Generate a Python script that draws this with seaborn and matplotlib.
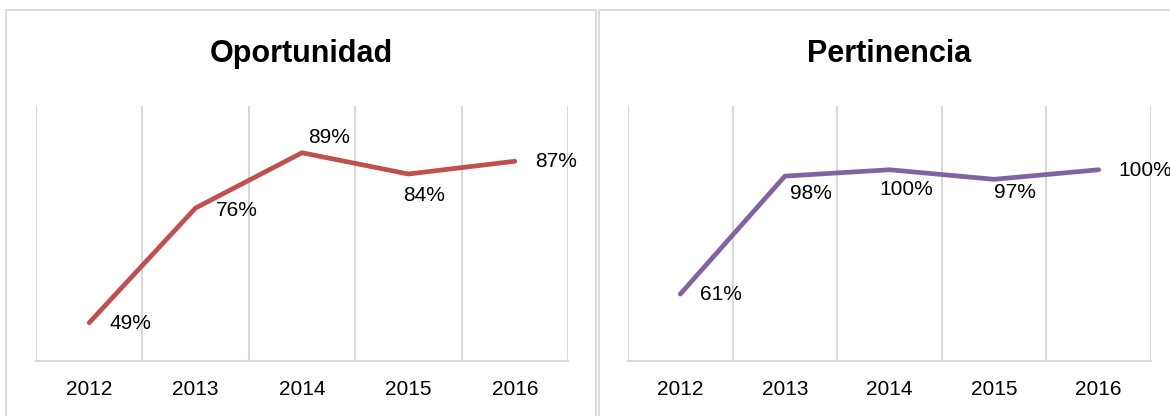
import numpy as np
import pandas as pd
import matplotlib
matplotlib.use("Agg")
import matplotlib.pyplot as plt
import matplotlib.ticker as mticker
from matplotlib.patches import Rectangle
import seaborn as sns

sns.set_theme(style="white")
plt.rcParams["font.family"] = ["Liberation Sans", "DejaVu Sans"]

# Data
years = [2012, 2013, 2014, 2015, 2016]
oportunidad = [0.49, 0.76, 0.89, 0.84, 0.87]
pertinencia = [0.61, 0.98, 1.00, 0.97, 1.00]

# label offsets (pixels, centre of text relative to the point)
off_op = [(41, -1), (41, -2), (27, 15), (16, -21), (41, 0)]
off_pe = [(41, 0), (26, -17), (17, -20), (21, -13), (47, -1)]

grid_col = "#D9D9D9"

fig = plt.figure(figsize=(11.7, 4.16), dpi=100)

# panel borders (figure pixels)
W, H = 1170, 416
for x0, x1 in [(6, 596), (599, 1200)]:
    fig.patches.append(Rectangle((x0 / W, -0.1), (x1 - x0) / W, (H - 10) / H + 0.1,
                                 transform=fig.transFigure, fill=False,
                                 edgecolor=grid_col, lw=1.3, zorder=0))


def panel(rect, vals, color, title, ylim, offsets, title_x):
    ax = fig.add_axes(rect)
    df = pd.DataFrame({"year": years, "val": vals})
    sns.lineplot(data=df, x="year", y="val", ax=ax, color=color, lw=3.4,
                 solid_capstyle="round")
    ax.set_xlim(years[0] - 0.5, years[-1] + 0.5)
    ax.set_ylim(*ylim)
    ax.set(xlabel=None, ylabel=None)
    ax.set_yticks([])
    ax.xaxis.set_major_locator(mticker.FixedLocator(years))
    ax.xaxis.set_minor_locator(mticker.FixedLocator(np.arange(years[0] - 0.5, years[-1] + 1, 1)))
    ax.tick_params(axis="x", which="major", length=0, labelsize=15, pad=14, colors="#000000")
    ax.tick_params(axis="x", which="minor", length=8, width=1.5, color=grid_col, direction="out")
    ax.grid(axis="x", which="minor", color=grid_col, lw=1.5)
    for s in ["top", "right", "left"]:
        ax.spines[s].set_visible(False)
    ax.spines["bottom"].set_color(grid_col)
    ax.spines["bottom"].set_linewidth(1.5)
    for x, v, (dx, dy) in zip(years, vals, offsets):
        ax.annotate(f"{v:.0%}", (x, v), xytext=(dx, dy), textcoords="offset pixels",
                    ha="center", va="center", fontsize=15,
                    color="#000000", annotation_clip=False)
    fig.text(title_x, 1 - 54 / H, title, ha="center", va="center",
             fontsize=22, fontweight="bold", color="#000000")
    return ax


panel([36 / W, 1 - 361 / H, 532 / W, 255 / H], oportunidad, "#C0504D",
      "Oportunidad", (0.4, 1.0), off_op, 301 / W)
panel([628 / W, 1 - 361 / H, 523 / W, 255 / H], pertinencia, "#8064A2",
      "Pertinencia", (0.4, 1.2), off_pe, 889 / W)

fig.savefig("out.png", dpi=100)
